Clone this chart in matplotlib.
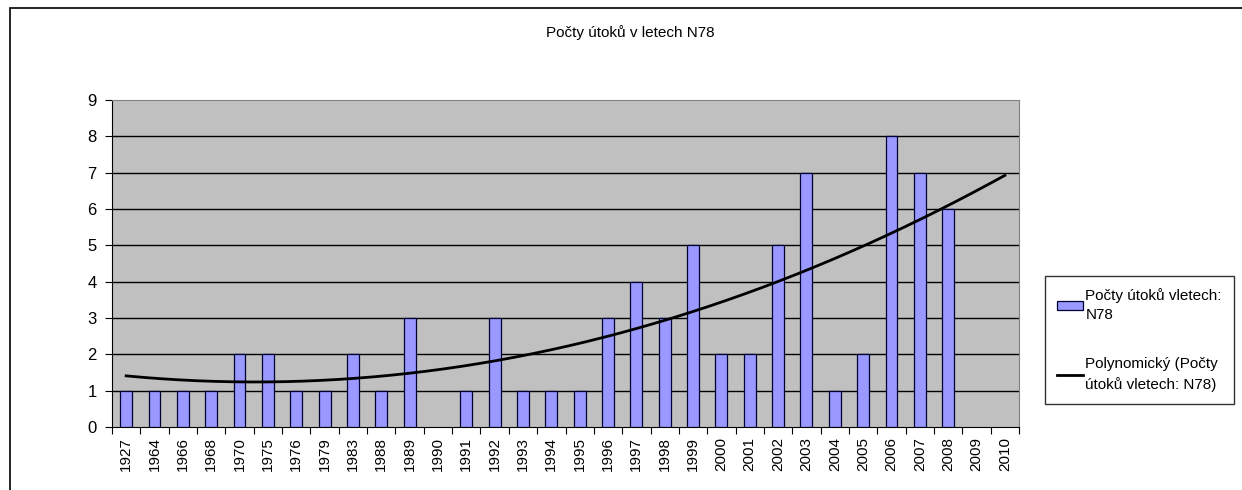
import numpy as np
import matplotlib.pyplot as plt
from matplotlib.patches import Rectangle

plt.rcParams['font.family'] = ['Liberation Sans Narrow', 'Liberation Sans', 'DejaVu Sans']

years = ["1927", "1964", "1966", "1968", "1970", "1975", "1976", "1979", "1983", "1988",
         "1989", "1990", "1991", "1992", "1993", "1994", "1995", "1996", "1997", "1998",
         "1999", "2000", "2001", "2002", "2003", "2004", "2005", "2006", "2007", "2008",
         "2009", "2010"]
# 1990 has no value in the sheet
attacks = [1, 1, 1, 1, 2, 2, 1, 1, 2, 1,
           3, np.nan, 1, 3, 1, 1, 1, 3, 4, 3,
           5, 2, 2, 5, 7, 1, 2, 8, 7, 6]

title = "Počty útoků v letech N78"
bar_label = "Počty útoků vletech:\nN78"
trend_label = "Polynomický (Počty\nútoků vletech: N78)"

fig = plt.figure(figsize=(12.42, 4.9), dpi=100)
ax = fig.add_axes([112 / 1242, 1 - 427 / 490, (1019 - 112) / 1242, (427 - 100) / 490])

# chart area frame
fig.patches.append(Rectangle((10 / 1242, -0.1), 1.1, 1 - 8 / 490 + 0.1, transform=fig.transFigure,
                             fill=False, edgecolor='black', linewidth=1.2))

ax.set_facecolor('#c0c0c0')
n = len(years)
xs = np.arange(1, n + 1)
vals = np.array(attacks, dtype=float)
bx = xs[:len(vals)]
bars = ax.bar(bx, vals, width=0.42, color='#9999ff', edgecolor='#000033',
              linewidth=0.9, zorder=3)

# 2nd order polynomial trendline (blank cells skipped), forecast to the last categories
ok = ~np.isnan(vals)
coef = np.polyfit(bx[ok], vals[ok], 2)
tx = np.linspace(1, n, 200)
trend, = ax.plot(tx, np.polyval(coef, tx), color='black', linewidth=2, zorder=4)

ax.set_xlim(0.5, n + 0.5)
ax.set_ylim(0, 9)
ax.set_yticks(range(10))
for y in range(1, 9):
    ax.axhline(y, color='black', linewidth=1, zorder=1)

ax.set_xticks(np.arange(0.5, n + 1, 1))
ax.set_xticklabels([])
ax.set_xticks(xs, minor=True)
ax.set_xticklabels(years, minor=True, rotation=90, fontsize=11)
ax.tick_params(axis='x', which='minor', length=0, pad=7)
ax.tick_params(axis='x', which='major', length=5, direction='out')
ax.tick_params(axis='y', length=5, direction='out', labelsize=12, pad=6)

ax.spines['top'].set_color('#808080')
ax.spines['right'].set_color('#808080')
ax.spines['left'].set_color('black')
ax.spines['bottom'].set_color('black')

fig.text(630 / 1242, 1 - 33 / 490, title, fontsize=11, ha='center', va='center')

leg = fig.legend([bars, trend], [bar_label, trend_label], loc='upper left',
                 bbox_to_anchor=(1045 / 1242, 1 - 276 / 490), borderaxespad=0, fontsize=11,
                 frameon=True, fancybox=False, edgecolor='black', borderpad=0.8,
                 handlelength=1.7, handleheight=0.5, handletextpad=0.15, labelspacing=2.3)
for t in leg.get_texts():
    t.set_linespacing(1.45)
leg.get_frame().set_linewidth(1)

fig.savefig('out.png', dpi=100)
